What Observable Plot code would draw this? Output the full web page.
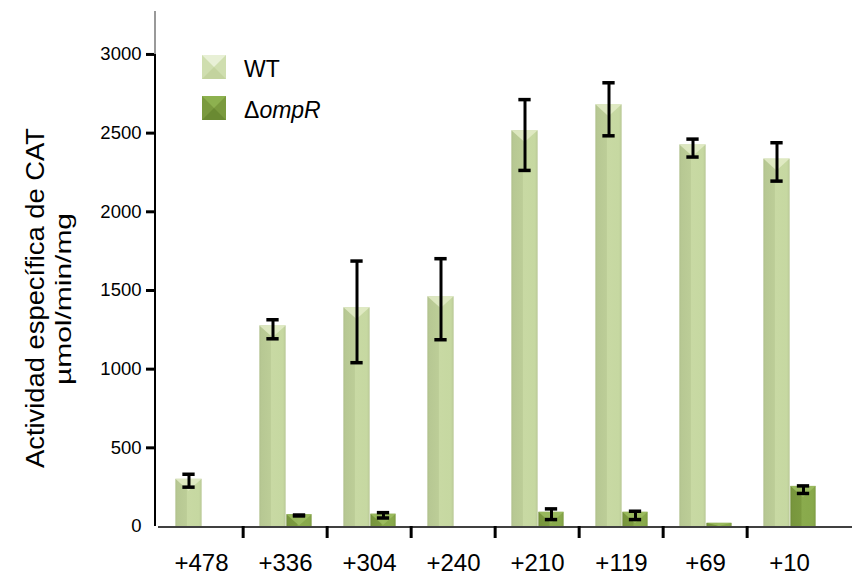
<!DOCTYPE html>
<html><head><meta charset="utf-8">
<script src="https://cdn.jsdelivr.net/npm/d3@7"></script>
<script src="https://cdn.jsdelivr.net/npm/@observablehq/plot@0.6"></script>
<style>
body{margin:0;background:#fff;}
#chart svg{font-family:"Liberation Sans",Arial,sans-serif;}
</style>
</head><body><div id="chart"></div>
<script>
const categories = ["+478","+336","+304","+240","+210","+119","+69","+10"];
const seriesNames = ["WT","ompR"];
const wtValues  = [300, 1275, 1390, 1460, 2515, 2680, 2425, 2335];
const wtLow     = [250, 1193, 1041, 1187, 2263, 2483, 2348, 2195];
const wtHigh    = [332, 1314, 1687, 1702, 2713, 2820, 2462, 2439];
const ompRValues = [0, 75, 78, 0, 90, 90, 20, 255];
const ompRLow    = [null, 67, 54, null, 44, 44, null, 210];
const ompRHigh   = [null, 73, 88, null, 112, 97, null, 258];
const yTicks = [0, 500, 1000, 1500, 2000, 2500, 3000];
const yLabel1 = "Actividad específica de CAT";
const yLabel2 = "µmol/min/mg";

const wt = categories.map((c,i)=>({cat:c, v:wtValues[i], lo:wtLow[i], hi:wtHigh[i]}));
const om = categories.map((c,i)=>({cat:c, v:ompRValues[i], lo:ompRLow[i], hi:ompRHigh[i]}));
const omErr = om.filter(d=>d.lo!=null);

const half = 42.35;
const plot = Plot.plot({
  width: 854, height: 576,
  marginLeft: 155, marginRight: 2, marginTop: 11, marginBottom: 50,
  style: {fontFamily: '"Liberation Sans", Arial, sans-serif', background: "#fff"},
  x: {domain: categories, range: [156.6, 834.4], padding: 0, axis: null},
  y: {domain: [0, 3273], axis: null},
  marks: [
    Plot.barY(wt, {x:"cat", y:"v", fill:"url(#gWT)", insetLeft: half-26, insetRight: half-1, className:"bwt"}),
    Plot.barY(om.filter(d=>d.v>0), {x:"cat", y:"v", fill:"url(#gOM)", insetLeft: half+1, insetRight: half-27, className:"bom"}),
    Plot.ruleX(wt, {x:"cat", y1:"lo", y2:"hi", dx:-12.5, stroke:"#000", strokeWidth:3}),
    Plot.tickY(wt, {x:"cat", y:"hi", insetLeft: half-19, insetRight: half+6, stroke:"#000", strokeWidth:3.5}),
    Plot.tickY(wt, {x:"cat", y:"lo", insetLeft: half-19, insetRight: half+6, stroke:"#000", strokeWidth:3.5}),
    Plot.ruleX(omErr, {x:"cat", y1:"lo", y2:"hi", dx:14, stroke:"#000", strokeWidth:3}),
    Plot.tickY(omErr, {x:"cat", y:"hi", insetLeft: half+7.5, insetRight: half-20.5, stroke:"#000", strokeWidth:3.5}),
    Plot.tickY(omErr, {x:"cat", y:"lo", insetLeft: half+7.5, insetRight: half-20.5, stroke:"#000", strokeWidth:3.5}),
    Plot.axisX({tickSize: 0, tickPadding: 27, fontSize: 24, label: null, fill:"#000"}),
    Plot.axisX(categories.slice(1), {tickSize: 12, dx: -half, strokeWidth: 3, tickFormat: () => "", label: null, stroke:"#000"}),
    Plot.axisY(yTicks.slice(1), {tickSize: 9, tickPadding: 5, strokeWidth: 3, fontSize: 18.5, label: null, stroke:"#000", fill:"#000", tickFormat: d3.format("d"), className:"ytk"}),
    Plot.axisY([0], {tickSize: 0, tickPadding: 14, fontSize: 18.5, label: null, fill:"#000", tickFormat: d3.format("d")}),
    Plot.text([yLabel1], {frameAnchor:"left", textAnchor:"middle", lineAnchor:"middle", rotate:-90, dx:-120, dy:29, fontSize:26, fill:"#000", text: d=>d, className:"ylab1"}),
    Plot.text([yLabel2], {frameAnchor:"left", textAnchor:"middle", lineAnchor:"middle", rotate:-90, dx:-92, dy:30, fontSize:22, fill:"#000", text: d=>d, className:"ylab2"})
  ]
});

const svg = d3.select(plot);
svg.selectAll("g.ylab1 text").attr("textLength", 340).attr("lengthAdjust", "spacingAndGlyphs");
svg.selectAll("g.ylab2 text").attr("textLength", 172).attr("lengthAdjust", "spacingAndGlyphs");

const defs = svg.insert("defs", ":first-child");
function grad(id, stops){
  const g = defs.append("linearGradient").attr("id", id).attr("x1","0").attr("x2","1").attr("y1","0").attr("y2","0");
  stops.forEach(([o,c])=>g.append("stop").attr("offset",o).attr("stop-color",c));
}
grad("gWT", [["0","#b0c08c"],["0.08","#b7c893"],["0.42","#bccd97"],["0.46","#c8d9a3"],["0.9","#c6d8a1"],["1","#b9c896"]]);
grad("gOM", [["0","#6f8c36"],["0.08","#78963d"],["0.42","#7c9b40"],["0.46","#8aab4d"],["0.9","#88a94b"],["1","#7d9c42"]]);

// bevel triangles on bar tops
function bevel(cls, color){
  svg.selectAll("g."+cls+" rect").each(function(){
    const r = d3.select(this);
    const x = +r.attr("x"), y = +r.attr("y"), w = +r.attr("width"), h = +r.attr("height");
    const th = Math.min(w*0.45, h);
    d3.select(this.parentNode).append("polygon")
      .attr("points", `${x},${y} ${x+w},${y} ${x+w/2},${y+th}`)
      .attr("fill", color).attr("opacity", 0.85);
  });
}
bevel("bwt", "#e3ecc8");
bevel("bom", "#9ebd62");

// axis lines using the scales
const ys = plot.scale("y");
const y0 = ys.apply(0), yTop = ys.range[1];
const axisG = svg.append("g");
axisG.append("line").attr("x1",155).attr("x2",155).attr("y1",yTop).attr("y2",y0).attr("stroke","#999").attr("stroke-width",2);
axisG.append("line").attr("x1",155).attr("x2",155).attr("y1",ys.apply(3000)).attr("y2",y0).attr("stroke","#000").attr("stroke-width",2);
axisG.append("line").attr("x1",158).attr("x2",852).attr("y1",y0+1).attr("y2",y0+1).attr("stroke","#000").attr("stroke-width",1.5);

// legend
const lg = svg.append("g").attr("text-anchor","start");
function legBox(x, y, base, light, dark){
  lg.append("rect").attr("x",x).attr("y",y).attr("width",24).attr("height",24).attr("fill",base);
  lg.append("polygon").attr("points",`${x},${y} ${x+24},${y} ${x+12},${y+12}`).attr("fill",light);
  lg.append("polygon").attr("points",`${x},${y+24} ${x+24},${y+24} ${x+12},${y+12}`).attr("fill",dark);
}
legBox(202, 55, "#cfdeaf", "#e8f0d6", "#c3d39e");
legBox(202, 96, "#7a9a3e", "#8db14f", "#6a8a32");
lg.append("text").attr("x",244).attr("y",77).attr("font-size",23).attr("fill","#000").text(seriesNames[0]);
const t2 = lg.append("text").attr("x",244).attr("y",118).attr("font-size",23).attr("fill","#000");
t2.append("tspan").text("Δ");
t2.append("tspan").attr("font-style","italic").text(seriesNames[1]);

document.getElementById("chart").appendChild(plot);
</script>
</body></html>
